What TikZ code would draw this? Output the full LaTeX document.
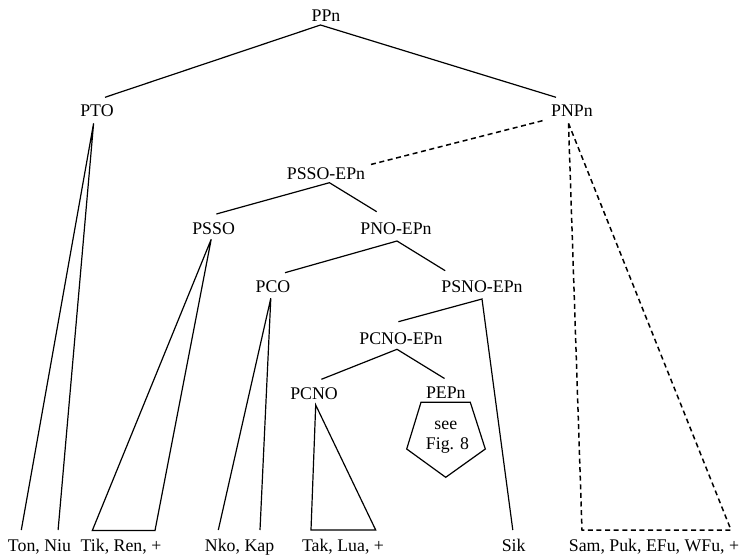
\documentclass[tikz,border=0pt]{standalone}
\usepackage{fontspec}
\setmainfont{Liberation Serif}
\begin{document}
\begin{tikzpicture}[x=1pt,y=-1pt,
  lbl/.style={anchor=base,inner sep=0pt,font=\fontsize{17.8}{21}\selectfont},
  edge/.style={line width=1.2pt,line join=miter},
  dedge/.style={line width=1.5pt,dash pattern=on 5pt off 3.6pt}]
\useasboundingbox (0,0) rectangle (741,557);
% labels
\node[lbl] (PPn) at (326,21) {PPn};
\node[lbl] (PTO) at (97,116) {PTO};
\node[lbl] (PNPn) at (572,116) {PNPn};
\node[lbl] (PSSOEPn) at (326,179) {PSSO-EPn};
\node[lbl] (PSSO) at (213.6,234) {PSSO};
\node[lbl] (PNOEPn) at (396,234) {PNO-EPn};
\node[lbl] (PCO) at (273,292) {PCO};
\node[lbl] (PSNOEPn) at (482,292) {PSNO-EPn};
\node[lbl] (PCNOEPn) at (401,344) {PCNO-EPn};
\node[lbl] (PCNO) at (314,399) {PCNO};
\node[lbl] (PEPn) at (445.8,398.5) {PEPn};
\node[lbl] (see) at (445.8,429.3) {see};
\node[lbl] (fig) at (447.5,449) {Fig. 8};
\node[lbl] (TonNiu) at (39.5,551) {Ton, Niu};
\node[lbl] (TikRen) at (121,551) {Tik, Ren, +};
\node[lbl] (NkoKap) at (239.6,551) {Nko, Kap};
\node[lbl] (TakLua) at (343,551) {Tak, Lua, +};
\node[lbl] (Sik) at (513.7,551) {Sik};
\node[lbl] (SamPuk) at (654,551) {Sam, Puk, EFu, WFu, +};
% connector tips
\coordinate (PPn-b) at (320.5,25);
\coordinate (PTO-t) at (105,97.3);
\coordinate (PNPn-t) at (556,97.3);
\coordinate (PTO-b) at (93.6,123.3);
\coordinate (Ton-t) at (21.3,530);
\coordinate (Niu-t) at (58.1,530);
\coordinate (PNPn-l) at (542.5,120.7);
\coordinate (PSSOEPn-t) at (367.7,165.3);
\coordinate (PNPn-b) at (568.5,123.3);
\coordinate (Sam-l) at (582,530);
\coordinate (Sam-r) at (731,530);
\coordinate (PSSOEPn-b) at (329.4,182.7);
\coordinate (PSSO-t) at (216.4,214);
\coordinate (PNOEPn-t) at (376.7,211.7);
\coordinate (PSSO-b) at (211.2,239.3);
\coordinate (Tik-l) at (92.3,530.5);
\coordinate (Tik-r) at (155,530.5);
\coordinate (PNOEPn-b) at (397,241);
\coordinate (PCO-t) at (285,272.7);
\coordinate (PSNOEPn-t) at (445.2,270.7);
\coordinate (PCO-b) at (270.8,298.3);
\coordinate (Nko-t) at (218.3,530);
\coordinate (Kap-t) at (260,530);
\coordinate (PSNOEPn-b) at (482,299);
\coordinate (PCNOEPn-t) at (398.4,321.7);
\coordinate (Sik-t) at (512.8,530);
\coordinate (PCNOEPn-b) at (397,349.3);
\coordinate (PCNO-t) at (321.4,379.3);
\coordinate (PEPn-t) at (444.5,378.5);
\coordinate (PCNO-b) at (315.7,405);
\coordinate (Tak-l) at (311,530);
\coordinate (Tak-r) at (375.7,530);
% connectors
\draw[edge] (PTO-t) -- (PPn-b) -- (PNPn-t);
\draw[edge] (Ton-t) -- (PTO-b) -- (Niu-t);
\draw[dedge] (PNPn-l) -- (PSSOEPn-t);
\draw[dedge] (PNPn-b) -- (Sam-l) -- (Sam-r) -- cycle;
\draw[edge] (PSSO-t) -- (PSSOEPn-b) -- (PNOEPn-t);
\draw[edge] (PSSO-b) -- (Tik-l) -- (Tik-r) -- cycle;
\draw[edge] (PCO-t) -- (PNOEPn-b) -- (PSNOEPn-t);
\draw[edge] (Nko-t) -- (PCO-b) -- (Kap-t);
\draw[edge] (PCNOEPn-t) -- (PSNOEPn-b) -- (Sik-t);
\draw[edge] (PCNO-t) -- (PCNOEPn-b) -- (PEPn-t);
\draw[edge] (PCNO-b) -- (Tak-l) -- (Tak-r) -- cycle;
% pentagon
\draw[edge] (421,402.3) -- (470.3,402.3) -- (485.3,449) -- (445.7,477.3) -- (406.7,449) -- cycle;
\end{tikzpicture}
\end{document}
